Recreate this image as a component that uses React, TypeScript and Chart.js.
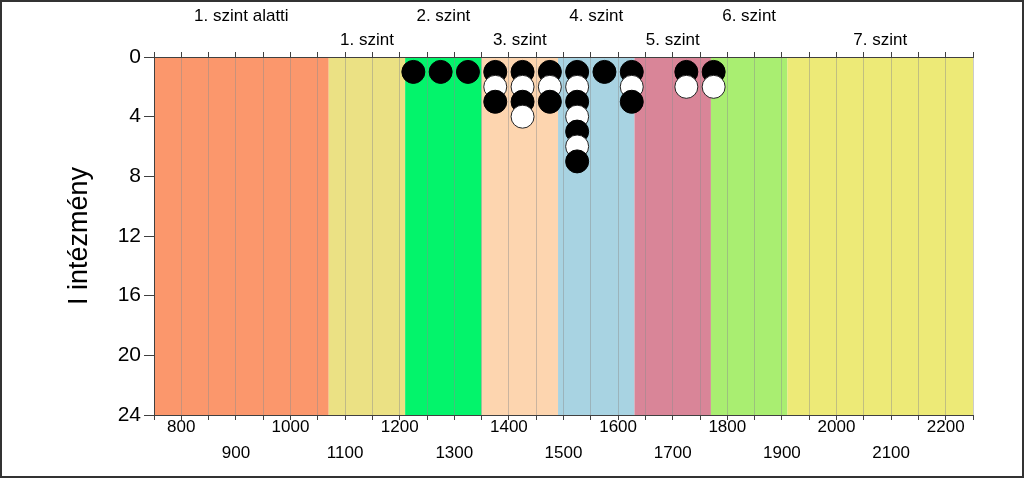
import React, { useEffect, useRef } from 'react';
import { Chart, registerables } from 'chart.js';

Chart.register(...registerables);

// ---- data ----
const bandNames = ['1. szint alatti', '1. szint', '2. szint', '3. szint', '4. szint', '5. szint', '6. szint', '7. szint'];
const bandEdges = [750, 1070, 1210, 1350, 1490, 1630, 1770, 1910, 2250];
const bandColors = ['#FB976C', '#EBE184', '#03F46B', '#FDD5AF', '#A8D3E2', '#D98598', '#A9EE71', '#EDEA77'];

const blackX = [1225, 1275, 1325, 1375, 1375, 1425, 1425, 1475, 1475, 1525, 1525, 1525, 1525, 1575, 1625, 1625, 1725, 1775];
const blackY = [1, 1, 1, 1, 3, 1, 3, 1, 3, 1, 3, 5, 7, 1, 1, 3, 1, 1];
const whiteX = [1375, 1425, 1425, 1475, 1525, 1525, 1525, 1625, 1725, 1775];
const whiteY = [2, 2, 4, 2, 2, 4, 6, 2, 2, 2];

const xMin = 750;
const xMax = 2250;
const xStep = 50;
const yMin = 0;
const yMax = 24;
const yStep = 4;
const yTitle = 'I intézmény';

const FONT = 'Arial, "Liberation Sans", sans-serif';

const bandCenters = bandNames.map((_, i) => (bandEdges[i] + bandEdges[i + 1]) / 2);

const bandPlugin = {
  id: 'bands',
  beforeDraw(chart: any) {
    const { ctx, chartArea, scales } = chart;
    const xs = scales.x;
    ctx.save();
    for (let i = 0; i < bandNames.length; i++) {
      const x0 = xs.getPixelForValue(bandEdges[i]);
      const x1 = xs.getPixelForValue(bandEdges[i + 1]);
      ctx.fillStyle = bandColors[i];
      ctx.fillRect(x0, chartArea.top, x1 - x0, chartArea.bottom - chartArea.top);
    }
    ctx.restore();
  },
};

export default function App() {
  const ref = useRef<HTMLCanvasElement>(null);

  useEffect(() => {
    if (!ref.current) return;
    const pts = [
      ...blackX.map((x, i) => ({ x, y: blackY[i], black: true })),
      ...whiteX.map((x, i) => ({ x, y: whiteY[i], black: false })),
    ].sort((a, b) => a.x - b.x || a.y - b.y);

    const chart = new Chart(ref.current, {
      type: 'scatter',
      data: {
        datasets: [
          {
            data: pts.map((p) => ({ x: p.x, y: p.y })),
            pointBackgroundColor: pts.map((p) => (p.black ? '#000000' : '#ffffff')),
            pointBorderColor: pts.map((p) => (p.black ? '#000000' : '#222222')),
            pointBorderWidth: 1,
            pointRadius: 11.5,
            pointHoverRadius: 11.5,
            showLine: false,
          } as any,
        ],
      },
      options: {
        animation: false,
        responsive: false,
        devicePixelRatio: 1,
        layout: { padding: { left: 0, right: 49, top: 0, bottom: 0 } },
        plugins: { legend: { display: false }, tooltip: { enabled: false } },
        events: [],
        scales: {
          x: {
            type: 'linear',
            position: 'bottom',
            min: xMin,
            max: xMax,
            ticks: {
              stepSize: xStep,
              autoSkip: false,
              maxRotation: 0,
              minRotation: 0,
              padding: -5,
              color: '#000',
              font: { family: FONT, size: 17, lineHeight: 1.49 },
              callback: (v: any) => {
                const n = Number(v);
                if (n % 200 === 0) return [String(n), ''];
                if (n % 100 === 0) return ['', String(n)];
                return '';
              },
            },
            grid: {
              color: 'rgba(140,140,140,0.45)',
              tickColor: '#404040',
              tickLength: 5,
              lineWidth: 1,
            },
            border: { color: '#404040', width: 1 },
            afterFit: (s: any) => {
              s.height = 61;
            },
          },
          xTop: {
            type: 'linear',
            position: 'top',
            min: xMin,
            max: xMax,
            afterBuildTicks: (s: any) => {
              const vals: number[] = [];
              for (let v = xMin; v <= xMax; v += xStep) vals.push(v);
              bandCenters.forEach((c) => {
                if (!vals.includes(c)) vals.push(c);
              });
              vals.sort((a, b) => a - b);
              s.ticks = vals.map((value) => ({ value }));
            },
            ticks: {
              autoSkip: false,
              maxRotation: 0,
              minRotation: 0,
              padding: 0,
              color: '#000',
              font: { family: FONT, size: 17, lineHeight: 1.4 },
              callback: (v: any) => {
                const n = Number(v);
                const i = bandCenters.findIndex((c) => Math.abs(c - n) < 1e-6);
                if (i < 0) return '';
                return i % 2 === 0 ? [bandNames[i], ''] : ['', bandNames[i]];
              },
            },
            grid: {
              drawOnChartArea: false,
              tickLength: 5,
              tickColor: (ctx: any) =>
                ctx.tick && Math.abs(ctx.tick.value % xStep) < 1e-6 ? '#404040' : 'rgba(0,0,0,0)',
            },
            border: { color: '#404040', width: 1 },
            afterFit: (s: any) => {
              s.height = 55;
            },
          },
          y: {
            type: 'linear',
            reverse: true,
            min: yMin,
            max: yMax,
            ticks: {
              stepSize: yStep,
              padding: 3,
              color: '#000',
              font: { family: FONT, size: 21 },
            },
            grid: {
              drawOnChartArea: false,
              drawTicks: true,
              tickLength: 10,
              tickColor: '#404040',
            },
            border: { color: '#404040', width: 1 },
            title: {
              display: true,
              text: yTitle,
              color: '#000',
              font: { family: FONT, size: 27 },
              padding: { top: 61, bottom: 0 },
            },
            afterFit: (s: any) => {
              s.width = 152;
            },
          },
        },
      } as any,
      plugins: [bandPlugin],
    });
    return () => chart.destroy();
  }, []);

  return (
    <div
      style={{
        position: 'absolute',
        left: 0,
        top: 0,
        width: 1024,
        height: 478,
        boxSizing: 'border-box',
        border: '2px solid #333',
        background: '#fff',
      }}
    >
      <canvas ref={ref} width={1020} height={474} style={{ display: 'block', width: 1020, height: 474 }} />
    </div>
  );
}
